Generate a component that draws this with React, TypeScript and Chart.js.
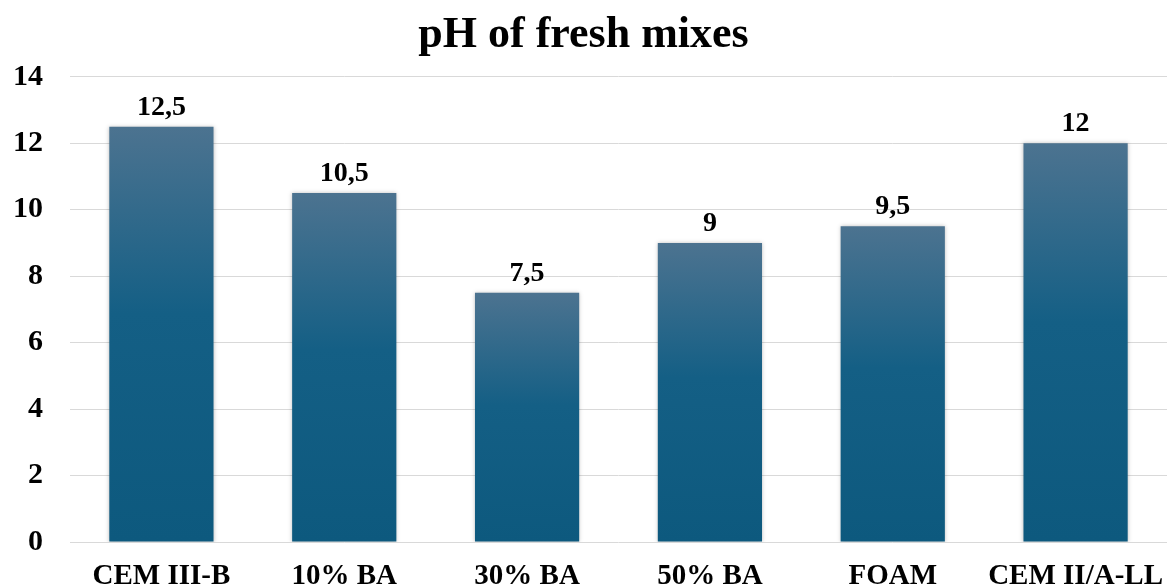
import React, { useEffect, useRef } from "react";
import { Chart, registerables } from "chart.js";

Chart.register(...registerables);

const categories = ["CEM III-B", "10% BA", "30% BA", "50% BA", "FOAM", "CEM II/A-LL"];
const phValues = [12.5, 10.5, 7.5, 9, 9.5, 12];
const yTicks = [0, 2, 4, 6, 8, 10, 12, 14];

const FONT = "'Liberation Serif', 'Times New Roman', serif";

// Writes the value above each bar, with a decimal comma
const valueLabels = {
  id: "valueLabels",
  afterDatasetsDraw(chart: any) {
    const { ctx } = chart;
    const meta = chart.getDatasetMeta(0);
    ctx.save();
    ctx.font = `bold 28px ${FONT}`;
    ctx.fillStyle = "#000";
    ctx.textAlign = "center";
    ctx.textBaseline = "alphabetic";
    meta.data.forEach((bar: any, i: number) => {
      const text = String(phValues[i]).replace(".", ",");
      ctx.fillText(text, bar.x, bar.y - 12);
    });
    ctx.restore();
  },
};

// Soft shadow around the bars
const barShadow = {
  id: "barShadow",
  beforeDatasetsDraw(chart: any) {
    const { ctx } = chart;
    ctx.save();
    ctx.shadowColor = "rgba(0,0,0,0.25)";
    ctx.shadowBlur = 4;
    ctx.shadowOffsetX = 0;
    ctx.shadowOffsetY = 0;
  },
  afterDatasetsDraw(chart: any) {
    chart.ctx.restore();
  },
};

export default function App() {
  const canvasRef = useRef<HTMLCanvasElement | null>(null);

  useEffect(() => {
    document.body.style.margin = "0";
    const canvas = canvasRef.current!;
    const chart = new Chart(canvas, {
      type: "bar",
      data: {
        labels: categories,
        datasets: [
          {
            data: phValues,
            barPercentage: 0.57,
            categoryPercentage: 1,
            backgroundColor: (context: any) => {
              const c = context.chart;
              const area = c.chartArea;
              if (!area) return "#135e84";
              const yScale = c.scales.y;
              const v = phValues[context.dataIndex];
              const top = yScale.getPixelForValue(v);
              const bottom = yScale.getPixelForValue(0);
              const g = c.ctx.createLinearGradient(0, top, 0, bottom);
              g.addColorStop(0, "#4c7390");
              g.addColorStop(0.45, "#145f85");
              g.addColorStop(1, "#0d597e");
              return g;
            },
            borderWidth: 0,
          },
        ],
      },
      options: {
        responsive: false,
        animation: false,
        maintainAspectRatio: false,
        layout: { padding: { top: 0, right: 3, bottom: 0, left: 0 } },
        plugins: {
          legend: { display: false },
          tooltip: { enabled: false },
          title: {
            display: true,
            text: "pH of fresh mixes",
            color: "#000",
            font: { family: FONT, size: 44, weight: "bold", lineHeight: 1.2 },
            padding: { top: 9, bottom: 15 },
          },
        },
        scales: {
          x: {
            grid: { display: false },
            border: { display: false },
            afterFit: (scale: any) => {
              scale.height = 45;
              scale.paddingLeft = 0;
              scale.paddingRight = 0;
            },
            ticks: {
              color: "#000",
              font: { family: FONT, size: 29, weight: "bold" },
              padding: 9,
              maxRotation: 0,
              autoSkip: false,
            },
          },
          y: {
            min: 0,
            max: 14,
            afterFit: (scale: any) => {
              scale.width = 70;
            },
            afterBuildTicks: (scale: any) => {
              scale.ticks = yTicks.map((v) => ({ value: v }));
            },
            grid: { color: "#d9d9d9", lineWidth: 1, drawTicks: false },
            border: { display: false },
            ticks: {
              color: "#000",
              font: { family: FONT, size: 30, weight: "bold" },
              padding: 27,
            },
          },
        },
      },
      plugins: [barShadow, valueLabels],
    } as any);
    return () => chart.destroy();
  }, []);

  return (
    <div style={{ width: 1170, height: 587 }}>
      <canvas ref={canvasRef} width={1170} height={587} style={{ display: "block" }} />
    </div>
  );
}
